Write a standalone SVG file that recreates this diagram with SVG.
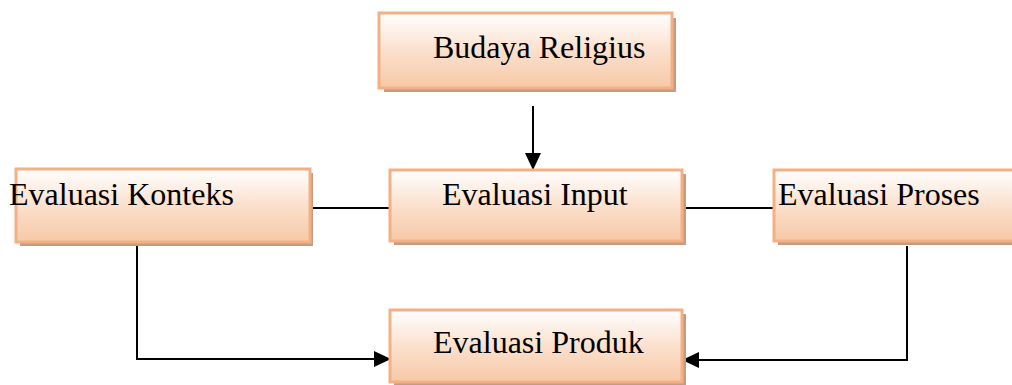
<svg xmlns="http://www.w3.org/2000/svg" width="1012" height="385" viewBox="0 0 1012 385">
<style>
.box{fill:url(#g);stroke:#f4b084;stroke-width:3}
.sh{fill:#c49c82}
.t{font-family:"Liberation Serif","Times New Roman",serif;font-size:32px;fill:#000}
.ln{fill:none;stroke:#000;stroke-width:2}
</style>
<defs>
<linearGradient id="g" x1="0" y1="0" x2="0" y2="1">
<stop offset="0" stop-color="#ffffff"/>
<stop offset="0.5" stop-color="#fbe0cd"/>
<stop offset="1" stop-color="#f7c8a6"/>
</linearGradient>
<marker id="ah" markerWidth="17" markerHeight="16" refX="16" refY="8" orient="auto" markerUnits="userSpaceOnUse">
<path d="M0,0 L17,8 L0,16 Z" fill="#000"/>
</marker>
</defs>
<g id="connectors">
<line class="ln" x1="533" y1="106" x2="533" y2="169" marker-end="url(#ah)"/>
<line class="ln" x1="311" y1="208" x2="390" y2="208"/>
<line class="ln" x1="683" y1="208" x2="774" y2="208"/>
<polyline class="ln" points="137,246 137,359 390,359" marker-end="url(#ah)"/>
<polyline class="ln" points="907,246 907,360 683,360" marker-end="url(#ah)"/>
</g>
<g id="budaya">
<rect class="sh" x="384" y="18" width="292" height="74"/>
<rect class="box" x="379" y="13" width="293" height="75"/>
<text class="t" x="433" y="58">Budaya Religius</text>
</g>
<g id="konteks">
<rect class="sh" x="20" y="173" width="293" height="73"/>
<rect class="box" x="16" y="169" width="294" height="73"/>
<text class="t" x="9" y="205">Evaluasi Konteks</text>
</g>
<g id="input">
<rect class="sh" x="394" y="174" width="292" height="71"/>
<rect class="box" x="390" y="170" width="292" height="71"/>
<text class="t" x="442" y="205">Evaluasi Input</text>
</g>
<g id="proses">
<rect class="sh" x="778" y="174" width="270" height="71"/>
<rect class="box" x="774" y="170" width="270" height="71"/>
<text class="t" x="778" y="205">Evaluasi Proses</text>
</g>
<g id="produk">
<rect class="sh" x="394" y="314" width="292" height="72"/>
<rect class="box" x="390" y="310" width="292" height="72"/>
<text class="t" x="433" y="353">Evaluasi Produk</text>
</g>
</svg>
